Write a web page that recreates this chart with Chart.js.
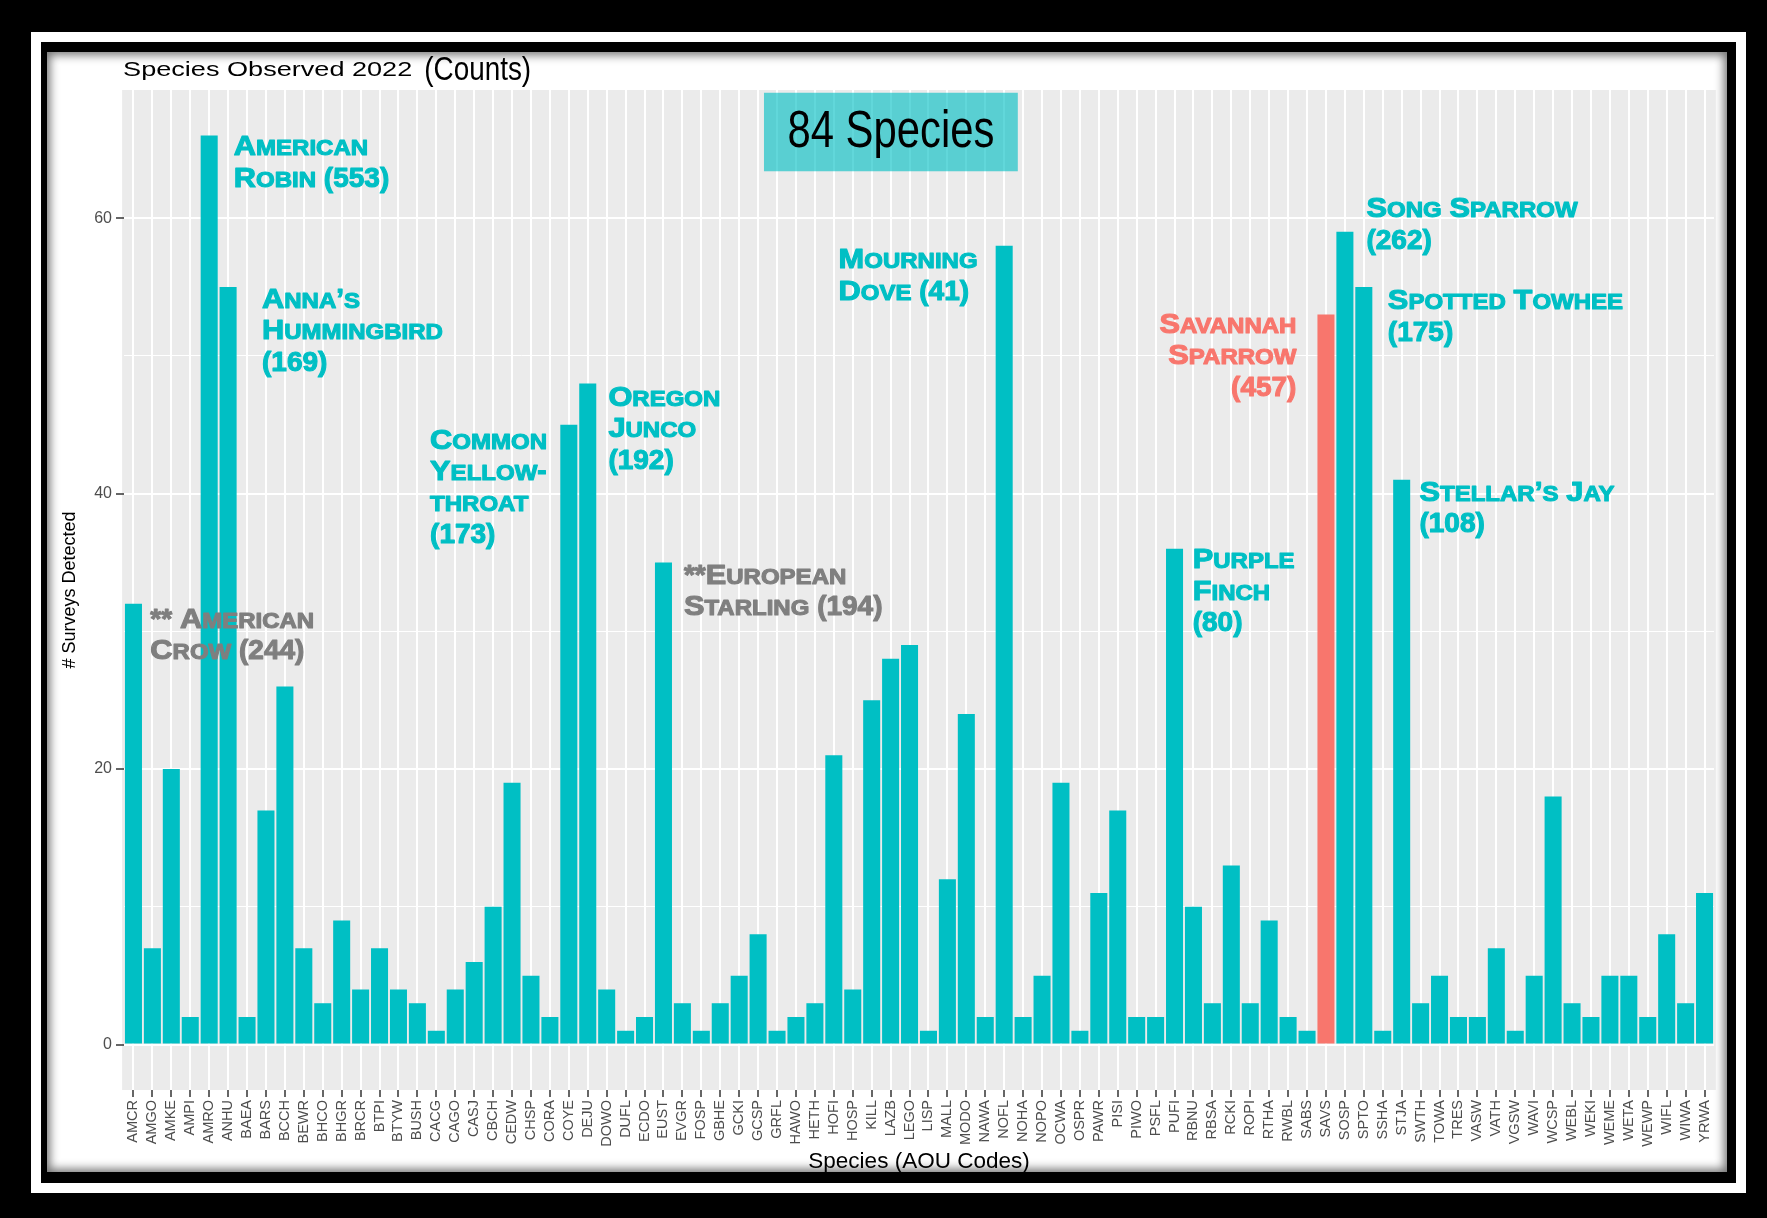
<!DOCTYPE html>
<html>
<head>
<meta charset="utf-8">
<script src="https://cdn.jsdelivr.net/npm/chart.js@4.4.0/dist/chart.umd.min.js"></script>
<style>
  html, body { margin: 0; padding: 0; background: #000; width: 1767px; height: 1218px; overflow: hidden; }
  #frame { position: absolute; left: 31px; top: 32px; width: 1695px; height: 1141px; border: 10px solid #fff; background: #000; }
  #panel { position: absolute; left: 47px; top: 52px; width: 1680px; height: 1120px; background: #fff;
           box-shadow: inset 0 0 10px 3px rgba(0,0,0,0.55); }
  #wrap { position: absolute; left: 0; top: 0; width: 1767px; height: 1218px; }
</style>
</head>
<body>
<div id="frame"></div>
<div id="panel"></div>
<div id="wrap"><canvas id="speciesChart"></canvas></div>
<script>
// AOU codes, in plot order
const species = [
  'AMCR','AMGO','AMKE','AMPI','AMRO','ANHU','BAEA','BARS','BCCH','BEWR','BHCO','BHGR',
  'BRCR','BTPI','BTYW','BUSH','CACG','CAGO','CASJ','CBCH','CEDW','CHSP','CORA','COYE',
  'DEJU','DOWO','DUFL','ECDO','EUST','EVGR','FOSP','GBHE','GCKI','GCSP','GRFL','HAWO',
  'HETH','HOFI','HOSP','KILL','LAZB','LEGO','LISP','MALL','MODO','NAWA','NOFL','NOHA',
  'NOPO','OCWA','OSPR','PAWR','PISI','PIWO','PSFL','PUFI','RBNU','RBSA','RCKI','ROPI',
  'RTHA','RWBL','SABS','SAVS','SOSP','SPTO','SSHA','STJA','SWTH','TOWA','TRES','VASW',
  'VATH','VGSW','WAVI','WCSP','WEBL','WEKI','WEME','WETA','WEWP','WIFL','WIWA','YRWA'
];
// # surveys each species was detected on
const surveys = [
  32, 7, 20, 2, 66, 55, 2, 17, 26, 7, 3, 9,
  4, 7, 4, 3, 1, 4, 6, 10, 19, 5, 2, 45,
  48, 4, 1, 2, 35, 3, 1, 3, 5, 8, 1, 2,
  3, 21, 4, 25, 28, 29, 1, 12, 24, 2, 58, 2,
  5, 19, 1, 11, 17, 2, 2, 36, 10, 3, 13, 3,
  9, 2, 1, 53, 59, 55, 1, 41, 3, 5, 2, 2,
  7, 1, 5, 18, 3, 2, 5, 5, 2, 8, 3, 11
];
const highlight = 'SAVS';
const yTicks = [0, 10, 20, 30, 40, 50, 60];
const yLabelStep = 20;

const TEAL = '#00BFC4', SALMON = '#F8766D', GREY = '#7F7F7F';
const SANS = '"Liberation Sans", Arial, sans-serif';

// callouts: lines of text, anchor in (category index, count) units
const notes = [
  { lines: ['American', 'Robin (553)'], x: 5.30, y: 65.3, color: TEAL },
  { lines: ['Anna\u2019s', 'Hummingbird', '(169)'], x: 6.79, y: 54.2, color: TEAL },
  { lines: ['** American', 'Crow (244)'], x: 0.89, y: 31.0, color: GREY },
  { lines: ['Common', 'Yellow-', 'throat', '(173)'], x: 15.67, y: 44.0, color: TEAL },
  { lines: ['Oregon', 'Junco', '(192)'], x: 25.09, y: 47.1, color: TEAL },
  { lines: ['**European', 'Starling (194)'], x: 29.08, y: 34.2, color: GREY },
  { lines: ['Mourning', 'Dove (41)'], x: 37.25, y: 57.1, color: TEAL },
  { lines: ['Savannah', 'Sparrow', '(457)'], x: 61.44, y: 52.4, color: SALMON, align: 'right' },
  { lines: ['Song Sparrow', '(262)'], x: 65.14, y: 60.8, color: TEAL },
  { lines: ['Spotted Towhee', '(175)'], x: 66.27, y: 54.1, color: TEAL },
  { lines: ['Stellar\u2019s Jay', '(108)'], x: 67.94, y: 40.2, color: TEAL },
  { lines: ['Purple', 'Finch', '(80)'], x: 55.96, y: 35.3, color: TEAL }
];
const countBox = { x0: 33.31, x1: 46.72, y0: 63.4, y1: 69.1 };

function hasFont(name) {
  const c = document.createElement('canvas').getContext('2d');
  const s = '(Counts) 84 Species';
  c.font = '40px monospace';
  const a = c.measureText(s).width;
  c.font = '40px "' + name + '", monospace';
  return c.measureText(s).width !== a;
}
const NARROW = hasFont('Liberation Sans Narrow')
  ? { family: '"Liberation Sans Narrow"', sx: 1 }
  : { family: SANS, sx: 0.82 };

// heavy small caps, drawn by hand: letters widened, digits left as they are
function smallCaps(ctx, str, x, y, size, color, align) {
  const runs = [];
  for (const ch of str) {
    const kind = /[a-z]/.test(ch) ? 'small' : /[A-Z]/.test(ch) ? 'cap' : 'other';
    const last = runs[runs.length - 1];
    if (last && last.kind === kind) last.t += ch; else runs.push({ t: ch, kind });
  }
  const fontOf = r => 'bold ' + (r.kind === 'small' ? size * 0.78 : size) + 'px ' + SANS;
  const sxOf = r => (r.kind === 'other' ? 1 : 1.1);
  ctx.save();
  ctx.fillStyle = color;
  ctx.strokeStyle = color;
  ctx.lineWidth = 1.1;
  ctx.lineJoin = 'round';
  ctx.textBaseline = 'alphabetic';
  ctx.textAlign = 'left';
  let w = 0;
  runs.forEach(r => {
    ctx.font = fontOf(r);
    r.w = ctx.measureText(r.t.toUpperCase()).width * sxOf(r);
    w += r.w;
  });
  let cx = x - (align === 'right' ? w : 0);
  runs.forEach(r => {
    ctx.font = fontOf(r);
    ctx.save();
    ctx.translate(cx, y);
    ctx.scale(sxOf(r), 1);
    ctx.fillText(r.t.toUpperCase(), 0, 0);
    ctx.strokeText(r.t.toUpperCase(), 0, 0);
    ctx.restore();
    cx += r.w;
  });
  ctx.restore();
}

function plainText(ctx, str, x, y, font, color, sx, align) {
  ctx.save();
  ctx.font = font;
  ctx.fillStyle = color;
  ctx.textBaseline = 'middle';
  ctx.textAlign = align || 'left';
  ctx.translate(x, y);
  ctx.scale(sx, 1);
  ctx.fillText(str, 0, 0);
  const w = ctx.measureText(str).width * sx;
  ctx.restore();
  return w;
}

const decor = {
  id: 'decor',
  beforeDraw(chart) {
    const { ctx, chartArea: a, scales: { x } } = chart;
    const l = x.getPixelForValue(-0.6), r = x.getPixelForValue(species.length - 0.4);
    ctx.save();
    ctx.fillStyle = '#EBEBEB';
    ctx.fillRect(l, a.top, r - l, a.bottom - a.top);
    ctx.restore();
  },
  afterDatasetsDraw(chart) {
    const { ctx, chartArea: a, scales: { x, y } } = chart;
    const left = x.getPixelForValue(-0.6);

    // title
    const tw = plainText(ctx, 'Species Observed 2022', left + 1, a.top - 20, '21px ' + SANS, '#000', 1.29);
    plainText(ctx, '(Counts)', left + tw + 13, a.top - 19, '34px ' + NARROW.family, '#000', NARROW.sx);

    // species count box
    const bx0 = x.getPixelForValue(countBox.x0), bx1 = x.getPixelForValue(countBox.x1);
    const by0 = y.getPixelForValue(countBox.y1), by1 = y.getPixelForValue(countBox.y0);
    ctx.save();
    ctx.fillStyle = 'rgba(0,191,196,0.62)';
    ctx.fillRect(bx0, by0, bx1 - bx0, by1 - by0);
    ctx.restore();
    plainText(ctx, species.length + ' Species', (bx0 + bx1) / 2, (by0 + by1) / 2 + 1,
              '51px ' + NARROW.family, '#000', NARROW.sx, 'center');

    // callouts
    const size = 28, lh = 31.4;
    notes.forEach(n => {
      const px = x.getPixelForValue(n.x), py = y.getPixelForValue(n.y);
      n.lines.forEach((line, i) => {
        smallCaps(ctx, line, px, py + i * lh + size * 0.36, size, n.color, n.align || 'left');
      });
    });
  }
};

const ymax = Math.max(...surveys);

new Chart(document.getElementById('speciesChart'), {
  type: 'bar',
  data: {
    labels: species,
    datasets: [{
      data: surveys,
      backgroundColor: species.map(s => s === highlight ? SALMON : TEAL),
      barPercentage: 0.9,
      categoryPercentage: 1.0
    }]
  },
  options: {
    responsive: true,
    maintainAspectRatio: false,
    animation: false,
    layout: { padding: { left: 55, right: 53, top: 90, bottom: 40 } },
    plugins: { legend: { display: false }, tooltip: { enabled: false } },
    scales: {
      x: {
        offset: true,
        border: { display: false },
        grid: { offset: false, color: '#fff', lineWidth: 2, tickColor: '#333', tickLength: 7, tickWidth: 1.5 },
        ticks: { autoSkip: false, minRotation: 90, maxRotation: 90, padding: 3, color: '#4D4D4D',
                 font: { family: SANS, size: 14.5 } },
        title: { display: true, text: 'Species (AOU Codes)', color: '#000',
                 font: { family: SANS, size: 22.5 }, padding: { top: 0, bottom: 3 } },
        afterFit: s => { s.height = 88; }
      },
      y: {
        min: -ymax * 0.05,
        max: ymax * 1.05,
        afterBuildTicks: s => { s.ticks = yTicks.map(v => ({ value: v })); },
        border: { display: false },
        grid: {
          color: '#fff',
          lineWidth: c => (c.tick && c.tick.value % yLabelStep === 0) ? 2 : 1,
          tickColor: c => (c.tick && c.tick.value % yLabelStep === 0) ? '#333' : 'rgba(0,0,0,0)',
          tickLength: 8,
          tickWidth: 1.5
        },
        ticks: { callback: v => (v % yLabelStep === 0 ? v : ''), padding: 4, color: '#4D4D4D',
                 font: { family: SANS, size: 16 } },
        title: { display: true, text: '# Surveys Detected', color: '#000',
                 font: { family: SANS, size: 18 }, padding: { top: 4, bottom: 0 } },
        afterFit: s => { s.width = 69; }
      }
    }
  },
  plugins: [decor]
});
</script>
</body>
</html>
